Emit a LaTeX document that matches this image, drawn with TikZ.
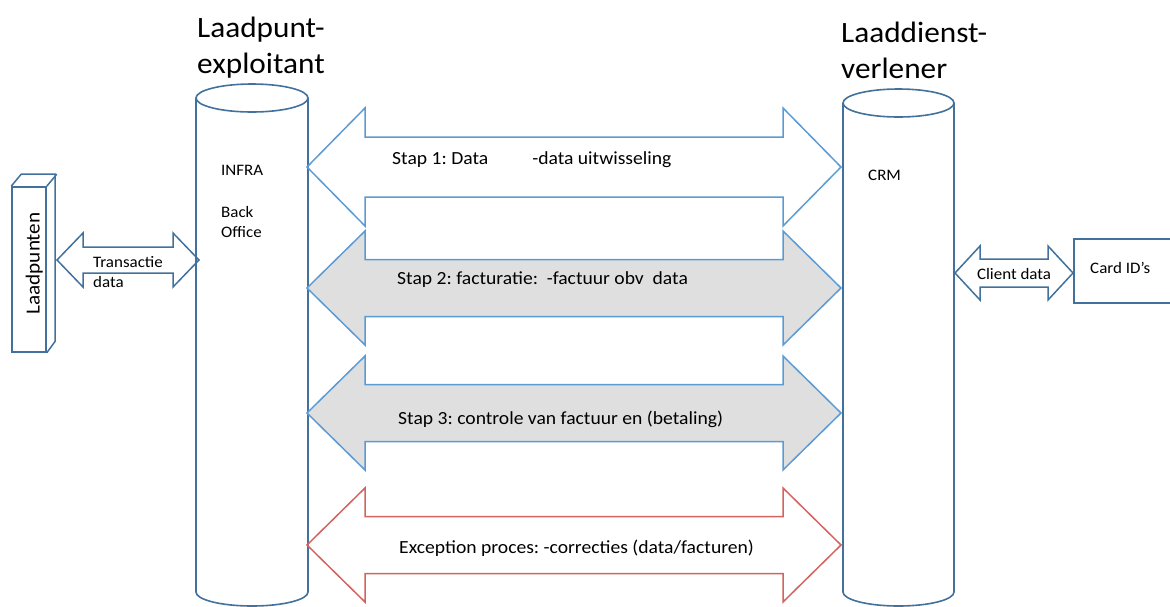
\documentclass[tikz,border=0pt]{standalone}
\usepackage{fontspec}
\setmainfont{Carlito}[FakeStretch=1.06]
\usetikzlibrary{calc}
\frenchspacing

\definecolor{cylblue}{HTML}{41719C}
\definecolor{stapblue}{HTML}{5B9BD5}
\definecolor{stapgrey}{HTML}{DFDFDF}
\definecolor{exred}{HTML}{D4625E}

\tikzset{
  cyl/.style={draw=cylblue, line width=1.6pt},
  stapplain/.style={draw=stapblue, line width=1.5pt},
  stapfill/.style={stapplain, fill=stapgrey},
  exarrow/.style={draw=exred, line width=1.5pt},
  smallarrow/.style={draw=cylblue, line width=1.5pt},
  boxline/.style={draw=cylblue, line width=1.6pt, inner sep=0pt},
  title/.style={anchor=base west, inner sep=0pt, font=\fontsize{29.5}{36}\selectfont},
  lbl/.style={anchor=base west, inner sep=0pt, font=\fontsize{16}{20}\selectfont},
  staplbl/.style={anchor=base west, inner sep=0pt, font=\fontsize{18.5}{22}\selectfont},
}

% cylinder: centre x, top y, x radius, y radius, bottom y
\newcommand*{\cylinder}[5]{%
  \draw[cyl] (#1,#2) ellipse [x radius=#3, y radius=#4];
  \draw[cyl] (#1-#3,#2) -- (#1-#3,#5)
    .. controls (#1-#3,#5+0.552*#4) and (#1-0.552*#3,#5+#4) .. (#1,#5+#4)
    .. controls (#1+0.552*#3,#5+#4) and (#1+#3,#5+0.552*#4) .. (#1+#3,#5)
    -- (#1+#3,#2);
}
% double block arrow: style, left tip, right tip, head length, head half, shaft half
\newcommand*{\blockarrow}[6]{%
  \draw[#1] (#2) -- ++(#4,-#5) -- ++(0,#5-#6) -- ($(#3)+(-#4,-#6)$)
    -- ++(0,#6-#5) -- (#3) -- ++(-#4,#5) -- ++(0,#6-#5)
    -- ($(#2)+(#4,#6)$) -- ++(0,#5-#6) -- cycle;
}

\begin{document}
\begin{tikzpicture}[x=1pt, y=-1pt]
  \useasboundingbox (0,0) rectangle (1170,606);
  \clip (0,0) rectangle (1170,606);

  % titles
  \node[title] (lpe1) at (197,37) {Laadpunt-};
  \node[title] (lpe2) at (197,73) {exploitant};
  \node[title] (ldv1) at (841,42) {Laaddienst-};
  \node[title] (ldv2) at (841,78) {verlener};

  % the two systems
  \cylinder{252}{98}{56}{14}{592}
  \cylinder{898.5}{103}{55.5}{14}{592}
  \node[lbl] (infra) at (221,175) {INFRA};
  \node[lbl] (back) at (221,217) {Back};
  \node[lbl] (office) at (221,237) {Office};
  \node[lbl] (crm) at (868,180) {CRM};

  % laadpunten
  \node[boxline, minimum width=34pt, minimum height=165pt] (laadpunten) at (29,269.5) {};
  \draw[smallarrow] (laadpunten.north west) -- ++(10,-12) -- ++(34,0) -- ++(0,167)
    -- (laadpunten.south east);
  \draw[smallarrow] (laadpunten.north east) -- ++(10,-12);
  \node[rotate=90, anchor=base, inner sep=0pt, font=\fontsize{20}{24}\selectfont]
    (lplabel) at (39.5,263.5) {Laadpunten};

  % card box
  \node[boxline, minimum width=112pt, minimum height=64pt] (cardbox) at (1130,271) {};
  \node[lbl] (cardids) at (1090,273) {Card ID’s};

  % steps
  \foreach \name/\yy/\hh/\ss/\sty in {stapA/167/59/30/stapplain, stapB/288/57/28.5/stapfill,
      stapC/413/57/28.5/stapfill, excep/545/57/28.5/exarrow} {
    \coordinate (\name-l) at (307,\yy);
    \coordinate (\name-r) at (841,\yy);
    \blockarrow{\sty}{\name-l}{\name-r}{58}{\hh}{\ss}
  }
  \node[staplbl] (stap1) at (392,164) {Stap 1: Data\hspace{44pt}-data uitwisseling};
  \node[staplbl] (stap2) at (397,284) {Stap 2: facturatie:\ \ -factuur obv\ \ data};
  \node[staplbl] (stap3) at (398,424) {Stap 3: controle van factuur en (betaling)};
  \node[staplbl] (exc) at (399,553) {Exception proces: -correcties (data/facturen)};

  % side arrows
  \coordinate (trans-l) at (57,260);
  \coordinate (trans-r) at (199,260);
  \blockarrow{smallarrow}{trans-l}{trans-r}{26}{27}{13}
  \node[lbl] (transactie) at (93,267) {Transactie};
  \node[lbl] (transdata) at (93,287) {data};

  \coordinate (client-l) at (955,273);
  \coordinate (client-r) at (1073,273);
  \blockarrow{smallarrow}{client-l}{client-r}{25}{27}{14}
  \node[lbl, anchor=base] (clientdata) at (1014,279.5) {Client data};
\end{tikzpicture}
\end{document}
